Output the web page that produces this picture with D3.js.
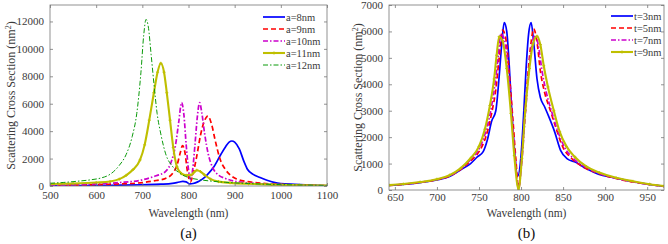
<!DOCTYPE html>
<html>
<head>
<meta charset="utf-8">
<script src="https://cdn.jsdelivr.net/npm/d3@7"></script>
<style>
  body { margin: 0; background: #fff; }
  svg text { font-family: "Times New Roman", "Liberation Serif", "DejaVu Serif", serif; }
</style>
</head>
<body>
<div id="chart"></div>
<script>
// panel (a): wavelength (nm), scattering cross section (nm^2)
const a8 = [[500,20],[550,30],[600,40],[650,60],[700,90],[740,130],[765,190],[780,290],[788,340],[795,300],[803,150],[810,180],[820,300],[830,500],[840,800],[855,1400],[870,2300],[880,2850],[888,3200],[894,3280],[900,3200],[910,2700],[920,1800],[928,1200],[940,850],[955,620],[970,420],[985,260],[1000,170],[1030,120],[1060,80],[1100,20]];
const a9 = [[500,40],[550,60],[600,100],[650,150],[700,250],[730,400],[750,550],[765,900],[775,1500],[782,2400],[787,2950],[792,2500],[798,1000],[804,300],[810,900],[818,2200],[826,3700],[834,4700],[842,5100],[850,4500],[858,3300],[868,2000],[880,1200],[892,750],[905,500],[925,330],[950,230],[980,150],[1020,90],[1060,50],[1100,20]];
const a10 = [[500,40],[550,80],[600,150],[650,250],[700,450],[730,750],[750,1050],[763,1800],[772,3000],[779,4700],[785,6080],[790,5200],[795,3000],[800,1200],[804,500],[809,1200],[814,3000],[819,5000],[824,6080],[829,5300],[835,3800],[843,2300],[853,1300],[865,800],[880,550],[900,350],[930,220],[970,130],[1020,70],[1100,20]];
const a11 = [[500,150],[550,180],[600,250],[630,330],[650,500],[665,780],[680,1200],[695,1900],[705,3000],[715,4800],[725,6800],[733,8300],[740,8950],[747,8300],[753,6800],[760,4800],[767,2800],[775,1400],[785,900],[795,780],[805,800],[812,1000],[818,1150],[826,1050],[835,800],[848,500],[865,320],[890,230],[930,160],[980,100],[1040,60],[1100,30]];
const a12 = [[500,200],[530,260],[560,350],[590,460],[610,580],[630,850],[650,1500],[665,2300],[678,3600],[688,5300],[697,8300],[703,11000],[708,12150],[713,11600],[719,9600],[725,7500],[732,5300],[740,3800],[752,2200],[765,1450],[780,950],[800,620],[820,480],[845,370],[880,270],[930,180],[1000,100],[1100,40]];

// panel (b)
const t3 = [[643,170],[660,210],[680,280],[700,380],[715,510],[728,760],[740,1000],[748,1250],[755,1450],[760,1900],[765,2600],[770,3000],[774,4300],[777,5500],[780,6330],[783,6000],[786,4700],[789,3000],[792,1600],[796,520],[800,1300],[803,2800],[806,4600],[809,5900],[812,6330],[815,5600],[819,4200],[823,3500],[828,3150],[834,2700],[840,2200],[847,1500],[855,1180],[865,1050],[878,800],[892,600],[910,470],[930,330],[950,220],[970,140]];
const t5 = [[643,175],[660,215],[680,285],[700,390],[715,530],[728,770],[740,1100],[750,1450],[758,2000],[765,2900],[770,3800],[774,5000],[778,6050],[782,5700],[786,4400],[790,2800],[794,1100],[797,80],[800,900],[804,2600],[808,4300],[812,5600],[815,6100],[819,5600],[823,4500],[828,3700],[835,3000],[842,2300],[850,1600],[860,1200],[875,850],[890,650],[910,460],[930,320],[950,220],[970,140]];
const t7 = [[643,180],[660,220],[680,290],[700,400],[715,540],[728,790],[740,1150],[750,1550],[758,2200],[764,3000],[769,4000],[773,5100],[776,5900],[780,5700],[785,4500],[789,2900],[793,1200],[797,50],[801,1100],[805,2800],[809,4400],[813,5500],[817,5850],[821,5400],[825,4500],[830,3700],[837,2900],[844,2200],[852,1600],[862,1200],[877,860],[892,640],[912,450],[932,320],[952,210],[970,140]];
const t9 = [[643,185],[660,225],[680,300],[700,410],[715,560],[728,820],[740,1200],[750,1650],[757,2300],[763,3200],[768,4200],[771,5100],[774,5800],[778,5650],[783,4600],[788,2900],[792,1300],[797,30],[801,1200],[805,3000],[810,4600],[814,5500],[819,5820],[823,5500],[827,4700],[832,3900],[839,3000],[846,2200],[854,1650],[864,1250],[878,880],[893,660],[913,460],[933,330],[953,220],[970,150]];

const ticksA_x = [500, 600, 700, 800, 900, 1000, 1100];
const ticksA_y = [0, 2000, 4000, 6000, 8000, 10000, 12000];
const ticksB_x = [650, 700, 750, 800, 850, 900, 950];
const ticksB_y = [0, 1000, 2000, 3000, 4000, 5000, 6000, 7000];

const namesA = ['a=8nm', 'a=9nm', 'a=10nm', 'a=11nm', 'a=12nm'];
const namesB = ['t=3nm', 't=5nm', 't=7nm', 't=9nm'];

const styles = [
  { color: '#0000ff', width: 1.7, dash: null },
  { color: '#ff0000', width: 1.7, dash: '5,3' },
  { color: '#cc00cc', width: 1.7, dash: '5,2,1.5,2' },
  { color: '#bfbf00', width: 2.1, dash: null, marker: true },
  { color: '#0a9a0a', width: 1, dash: '5,2,1.5,2' },
];

const W = 668;
const H = 244;
const serif = '"Times New Roman", "Liberation Serif", "DejaVu Serif", serif';
const textColor = '#3a3a3a';

const svg = d3.select('#chart')
  .append('svg')
  .attr('width', W)
  .attr('height', H)
  .attr('font-family', serif);

svg.append('rect').attr('width', W).attr('height', H).attr('fill', '#fff');

function drawPanel(cfg) {
  const x = d3.scaleLinear().domain(cfg.xDomain).range([cfg.left, cfg.right]);
  const y = d3.scaleLinear().domain(cfg.yDomain).range([cfg.bottom, cfg.top]);
  const g = svg.append('g');

  const clipId = `clip-${cfg.id}`;
  g.append('clipPath').attr('id', clipId)
    .append('rect')
    .attr('x', cfg.left).attr('y', cfg.top)
    .attr('width', cfg.right - cfg.left).attr('height', cfg.bottom - cfg.top);

  const line = d3.line()
    .x((d) => x(d[0]))
    .y((d) => y(d[1]))
    .curve(d3.curveMonotoneX);

  const plot = g.append('g').attr('clip-path', `url(#${clipId})`);

  cfg.series.forEach((s, i) => {
    const st = cfg.styles[i];
    plot.append('path')
      .datum(s)
      .attr('d', line)
      .attr('fill', 'none')
      .attr('stroke', st.color)
      .attr('stroke-width', st.width)
      .attr('stroke-dasharray', st.dash)
      .attr('stroke-linejoin', 'round');
    if (st.marker) {
      plot.selectAll(null)
        .data(s)
        .join('path')
        .attr('d', (d) => `M${x(d[0]) - 1.5},${y(d[1])}h3M${x(d[0])},${y(d[1]) - 1.5}v3`)
        .attr('stroke', st.color)
        .attr('stroke-width', 1);
    }
  });

  // box + inward ticks on all sides
  const axisColor = '#777';
  g.append('rect')
    .attr('x', cfg.left).attr('y', cfg.top)
    .attr('width', cfg.right - cfg.left).attr('height', cfg.bottom - cfg.top)
    .attr('fill', 'none')
    .attr('stroke', axisColor)
    .attr('stroke-width', 0.8);

  const fmt = d3.format('d');
  const bottomAxis = g.append('g')
    .attr('transform', `translate(0,${cfg.bottom})`)
    .call(d3.axisBottom(x).tickValues(cfg.xTicks).tickFormat(fmt).tickSizeInner(-3).tickSizeOuter(0).tickPadding(cfg.xPad));
  const topAxis = g.append('g')
    .attr('transform', `translate(0,${cfg.top})`)
    .call(d3.axisTop(x).tickValues(cfg.xTicks).tickSizeInner(-3).tickSizeOuter(0).tickFormat(''));
  const leftAxis = g.append('g')
    .attr('transform', `translate(${cfg.left},0)`)
    .call(d3.axisLeft(y).tickValues(cfg.yTicks).tickFormat(fmt).tickSizeInner(-3).tickSizeOuter(0).tickPadding(6));
  const rightAxis = g.append('g')
    .attr('transform', `translate(${cfg.right},0)`)
    .call(d3.axisRight(y).tickValues(cfg.yTicks).tickSizeInner(-3).tickSizeOuter(0).tickFormat(''));

  [bottomAxis, topAxis, leftAxis, rightAxis].forEach((a) => {
    a.attr('font-family', serif).attr('font-size', 11);
    a.select('.domain').remove();
    a.selectAll('line').attr('stroke', axisColor).attr('stroke-width', 0.8);
    a.selectAll('text').attr('fill', textColor);
  });

  // axis labels
  g.append('text')
    .attr('x', (cfg.left + cfg.right) / 2)
    .attr('y', 217)
    .attr('text-anchor', 'middle')
    .attr('fill', textColor)
    .attr('font-size', 11.5)
    .text('Wavelength (nm)');

  const yl = g.append('text')
    .attr('transform', `translate(${cfg.yLabelX},${(cfg.top + cfg.bottom) / 2}) rotate(-90)`)
    .attr('text-anchor', 'middle')
    .attr('fill', textColor)
    .attr('font-size', 12);
  yl.append('tspan').text('Scattering Cross Section (nm');
  yl.append('tspan').attr('dy', -4).attr('font-size', 8).text('2');
  yl.append('tspan').attr('dy', 4).text(')');

  g.append('text')
    .attr('x', (cfg.left + cfg.right) / 2)
    .attr('y', 238)
    .attr('text-anchor', 'middle')
    .attr('fill', '#111')
    .attr('font-size', 15)
    .text(cfg.caption);

  // legend
  const leg = g.append('g');
  cfg.names.forEach((name, i) => {
    const st = cfg.styles[i];
    const ly = cfg.legY + i * cfg.legStep;
    leg.append('line')
      .attr('x1', cfg.legX).attr('x2', cfg.legX + 22)
      .attr('y1', ly).attr('y2', ly)
      .attr('stroke', st.color)
      .attr('stroke-width', st.width)
      .attr('stroke-dasharray', st.dash);
    if (st.marker) {
      leg.append('path')
        .attr('d', `M${cfg.legX + 9.5},${ly}h3M${cfg.legX + 11},${ly - 1.5}v3`)
        .attr('stroke', st.color)
        .attr('stroke-width', 1);
    }
    leg.append('text')
      .attr('x', cfg.legX + 23)
      .attr('y', ly + 3.5)
      .attr('fill', textColor)
      .attr('font-size', 10.5)
      .text(name);
  });
}

drawPanel({
  id: 'a',
  left: 50, right: 327, top: 5, bottom: 186,
  xDomain: [500, 1100], yDomain: [0, 13200],
  xTicks: ticksA_x, yTicks: ticksA_y,
  xPad: 5,
  series: [a8, a9, a10, a11, a12],
  styles: styles,
  names: namesA,
  yLabelX: 15,
  caption: '(a)',
  legX: 263, legY: 17, legStep: 12,
});

drawPanel({
  id: 'b',
  left: 389, right: 664, top: 5, bottom: 190,
  xDomain: [643, 970], yDomain: [0, 7000],
  xTicks: ticksB_x, yTicks: ticksB_y,
  xPad: 3,
  series: [t3, t5, t7, t9],
  styles: styles.slice(0, 4),
  names: namesB,
  yLabelX: 362,
  caption: '(b)',
  legX: 611, legY: 16, legStep: 12,
});
</script>
</body>
</html>
